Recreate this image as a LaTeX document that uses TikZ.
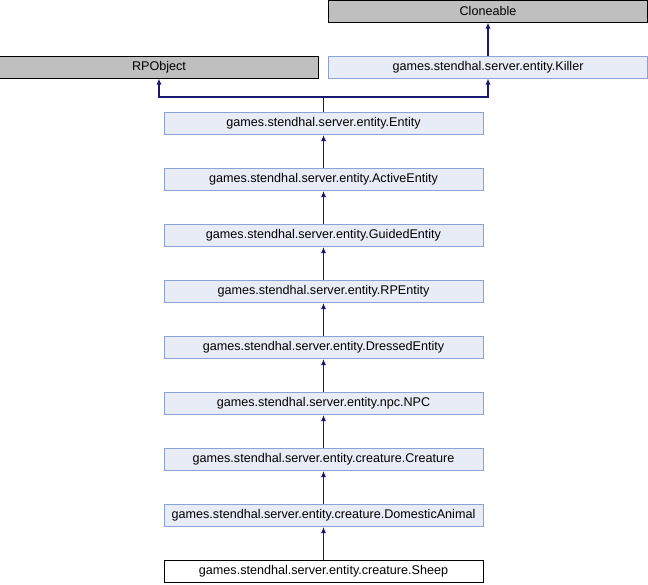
\documentclass[tikz,border=0pt]{standalone}
\usepackage{fontspec}
\setmainfont{Liberation Sans}
\usetikzlibrary{arrows.meta}
\definecolor{classfill}{HTML}{E8ECF6}
\definecolor{classline}{HTML}{8AA3D4}
\definecolor{extfill}{HTML}{BFBFBF}
\definecolor{edgeblue}{HTML}{191970}
\tikzset{
  cls/.style={draw=classline,fill=classfill,minimum width=319pt,minimum height=22pt,
    inner sep=0pt,line width=1pt,font=\fontsize{12.6}{14}\selectfont},
  ext/.style={cls,draw=black,fill=extfill},
  self/.style={cls,draw=black,fill=white},
  inh/.style={draw=edgeblue,line width=1.1pt,-{Latex[length=6pt,width=5pt]}}
}
\begin{document}
\begin{tikzpicture}[x=1pt,y=-1pt]
      \useasboundingbox (0,0) rectangle (648,584);
      \draw
        (488,11) node[ext] (cloneable){Cloneable}
        (488,67) node[cls] (killer){games.stendhal.server.entity.Killer}
        (159,67) node[ext] (rpobject){RPObject}
        (323.5,123.5) node[cls] (entity){games.stendhal.server.entity.Entity}
        (323.5,179.5) node[cls] (active){games.stendhal.server.entity.ActiveEntity}
        (323.5,235.5) node[cls] (guided){games.stendhal.server.entity.GuidedEntity}
        (323.5,291.5) node[cls] (rpentity){games.stendhal.server.entity.RPEntity}
        (323.5,347.5) node[cls] (dressed){games.stendhal.server.entity.DressedEntity}
        (323.5,403.5) node[cls] (npc){games.stendhal.server.entity.npc.NPC}
        (323.5,459.5) node[cls] (creature){games.stendhal.server.entity.creature.Creature}
        (323.5,515.5) node[cls] (domestic){games.stendhal.server.entity.creature.DomesticAnimal}
        (323.5,571.5) node[self] (sheep){games.stendhal.server.entity.creature.Sheep};
      \coordinate (split) at (323.5,97);
      \begin{scope}[inh]
        \draw (killer) to (cloneable);
        \draw (entity.north) -- (split) -| (rpobject.south);
        \draw (split) -| (killer.south);
        \draw (active) to (entity);
        \draw (guided) to (active);
        \draw (rpentity) to (guided);
        \draw (dressed) to (rpentity);
        \draw (npc) to (dressed);
        \draw (creature) to (npc);
        \draw (domestic) to (creature);
        \draw (sheep) to (domestic);
      \end{scope}
    \end{tikzpicture}
\end{document}
